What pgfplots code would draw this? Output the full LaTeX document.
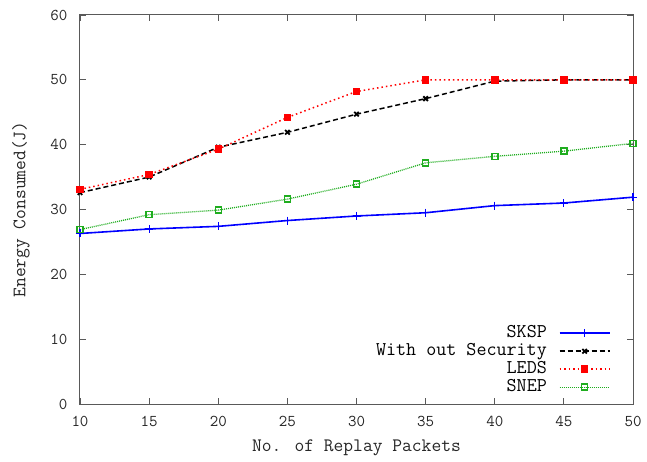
\documentclass[border=0pt]{standalone}
\usepackage{pgfplots}
\pgfplotsset{compat=1.18}
\usepackage{fontspec}
\definecolor{gpgreen}{rgb}{0.12,0.68,0.12}
\begin{document}
\begin{tikzpicture}
\begin{axis}[
  scale only axis,
  width=553pt, height=389pt,
  xmin=10, xmax=50, ymin=0, ymax=60,
  xtick={10,15,...,50}, ytick={0,10,...,60},
  /pgf/number format/assume math mode=true,
  tick label style={font=\ttfamily\fontsize{16.5}{18}\selectfont, text=black!85},
  xticklabel style={yshift=-9pt},
  yticklabel style={xshift=-9pt},
  label style={font=\ttfamily\fontsize{19}{21}\selectfont, text=black!85},
  xlabel={No. of Replay Packets},
  ylabel={Energy Consumed(J)},
  xlabel style={yshift=-6pt},
  ylabel style={yshift=14pt},
  axis line style={black!65, line width=1pt},
  major tick length=6pt,
  tick style={black!65, line width=0.8pt},
  legend style={at={(0.965,0.015)}, anchor=south east, draw=none, fill=none,
    font=\ttfamily\fontsize{19.5}{19.5}\selectfont, row sep=0.5pt, column sep=10pt,
    nodes={inner ysep=0.5pt, text height=12.5pt, text depth=4pt}},
  legend cell align=right,
  legend plot pos=right,
  legend image code/.code={\draw[mark repeat=2,mark phase=2] plot coordinates {(0pt,0pt) (25pt,0pt) (50pt,0pt)};},
]
\addplot[blue, line width=1.6pt, mark=+, mark size=4pt, mark options={solid, line width=1.2pt}]
  coordinates {(10,26.3) (15,27.0) (20,27.4) (25,28.3) (30,29.0) (35,29.5) (40,30.6) (45,31.0) (50,31.9)};
\addlegendentry{SKSP}
\addplot[black, line width=1.5pt, dash pattern=on 5pt off 3pt, mark=x, mark size=3.2pt, mark options={solid, line width=1.8pt}]
  coordinates {(10,32.6) (15,35.0) (20,39.6) (25,41.9) (30,44.7) (35,47.1) (40,49.8) (45,50.0) (50,50.0)};
\addlegendentry{With out Security}
\addplot[red, line width=1.5pt, dash pattern=on 1.5pt off 3pt, mark=square*, mark size=3pt, mark options={solid}]
  coordinates {(10,33.1) (15,35.4) (20,39.3) (25,44.2) (30,48.2) (35,50.0) (40,50.0) (45,50.0) (50,50.0)};
\addlegendentry{LEDS}
\addplot[gpgreen, line width=1.3pt, dash pattern=on 1pt off 1pt, mark=square, mark size=3pt, mark options={solid, line width=1.5pt}]
  coordinates {(10,26.9) (15,29.2) (20,29.9) (25,31.6) (30,33.9) (35,37.2) (40,38.2) (45,39.0) (50,40.2)};
\addlegendentry{SNEP}
\end{axis}
\pgfresetboundingbox
\path (current axis.south west) ++(-80pt,-57pt) coordinate (bl);
\path (current axis.north east) ++(14pt,15pt) coordinate (tr);
\path[use as bounding box] (bl) rectangle (tr);
\end{tikzpicture}
\end{document}
